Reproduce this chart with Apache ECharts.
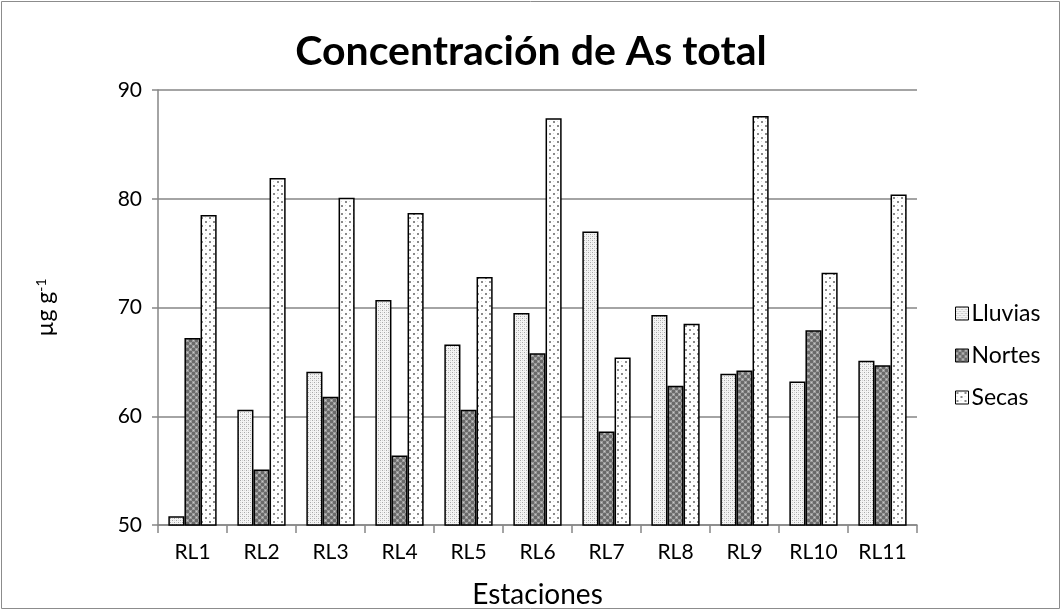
<!DOCTYPE html>
<html><head><meta charset="utf-8">
<script src="https://cdn.jsdelivr.net/npm/echarts@6/dist/echarts.min.js"></script>
<style>html,body{margin:0;padding:0;background:#fff}#c{width:1062px;height:611px}</style>
</head><body><div id="c"></div>
<script>
var categories = ['RL1','RL2','RL3','RL4','RL5','RL6','RL7','RL8','RL9','RL10','RL11'];
var lluvias = [50.8, 60.6, 64.1, 70.7, 66.6, 69.5, 77.0, 69.3, 63.9, 63.2, 65.1];
var nortes  = [67.2, 55.1, 61.8, 56.4, 60.6, 65.8, 58.6, 62.8, 64.2, 67.9, 64.7];
var secas   = [78.5, 81.9, 80.1, 78.7, 72.8, 87.4, 65.4, 68.5, 87.6, 73.2, 80.4];
var seriesNames = ['Lluvias','Nortes','Secas'];
var yTicks = [50, 60, 70, 80, 90];

function makePattern(size, bg, dots){
  var c = document.createElement('canvas');
  c.width = size; c.height = size;
  var ctx = c.getContext('2d');
  ctx.fillStyle = bg; ctx.fillRect(0,0,size,size);
  dots.forEach(function(d){ ctx.fillStyle = d[4]; ctx.fillRect(d[0],d[1],d[2],d[3]); });
  return {image: c, repeat: 'repeat'};
}
var patL = makePattern(4, '#f4f4f4', [[0,0,1,1,'#a8a8a8'],[2,2,1,1,'#a8a8a8'],[2,0,1,1,'#d6d6d6'],[0,2,1,1,'#d6d6d6']]);
var patN = makePattern(6, '#9a9a9a', [[0,0,3,3,'#6a6a6a'],[3,3,3,3,'#6a6a6a'],[1,4,1,1,'#c8c8c8'],[4,1,1,1,'#c8c8c8']]);
var patS = makePattern(8, '#ffffff', [[1,1,2,2,'#8a8a8a'],[5,5,2,2,'#8a8a8a'],[5,1,1,1,'#dddddd'],[1,5,1,1,'#dddddd']]);
var pats = [patL, patN, patS];
var datas = [lluvias, nortes, secas];

var chart = echarts.init(document.getElementById('c'), null, {renderer:'canvas'});
var FONT = 'Lato, "Open Sans", sans-serif';
chart.setOption({
  animation: false,
  backgroundColor: '#fff',
  textStyle: {fontFamily: FONT},
  title: {
    text: 'Concentración de As total', left: 'center', top: 26,
    textStyle: {fontFamily: FONT, fontSize: 41, fontWeight: 'bold', color: '#000'}
  },
  graphic: [{type:'rect', shape:{x:1.5,y:1.5,width:1058,height:607}, style:{fill:'none', stroke:'#8c8c8c', lineWidth:1}}],
  legend: {
    orient: 'vertical', left: 950, top: 297, itemGap: 19, itemWidth: 13, itemHeight: 13,
    icon: 'rect',
    textStyle: {fontSize: 23, color: '#000', fontFamily: FONT, padding: [0,0,0,-2]},
    itemStyle: {borderColor: '#000', borderWidth: 1},
    data: seriesNames
  },
  grid: {left: 158, right: 145, top: 90, bottom: 86, outerBoundsMode: 'none', containLabel: false},
  xAxis: {
    type: 'category', data: categories,
    name: 'Estaciones', nameLocation: 'middle', nameGap: 56,
    nameTextStyle: {fontSize: 28, color: '#000', fontFamily: FONT},
    axisLine: {lineStyle: {color: '#868686', width: 1.5}},
    axisTick: {show: true, length: 8, lineStyle: {color: '#868686', width: 1.5}},
    axisLabel: {fontSize: 21, color: '#000', margin: 17, fontFamily: FONT}
  },
  yAxis: {
    type: 'value', min: yTicks[0], max: yTicks[yTicks.length-1], interval: 10,
    name: '{b|µg g}{s|-1}', nameLocation: 'middle', nameGap: 100, nameRotate: 90,
    nameTextStyle: {rich: {b: {fontSize: 23, color: '#000', fontFamily: FONT}, s: {fontSize: 14, color: '#000', verticalAlign: 'top', padding:[0,0,10,0], fontFamily: FONT}}},
    axisLine: {show: true, lineStyle: {color: '#868686', width: 1.5}},
    axisTick: {show: true, length: 6, lineStyle: {color: '#868686', width: 1.5}},
    axisLabel: {fontSize: 21, color: '#000', margin: 16, fontFamily: FONT},
    splitLine: {lineStyle: {color: '#868686', width: 1.5}}
  },
  series: seriesNames.map(function(n, i){
    return {
      name: n, type: 'bar', data: datas[i],
      barGap: '0%', barCategoryGap: '30%',
      itemStyle: {color: pats[i], borderColor: '#000', borderWidth: 1.5}
    };
  })
});
</script></body></html>
